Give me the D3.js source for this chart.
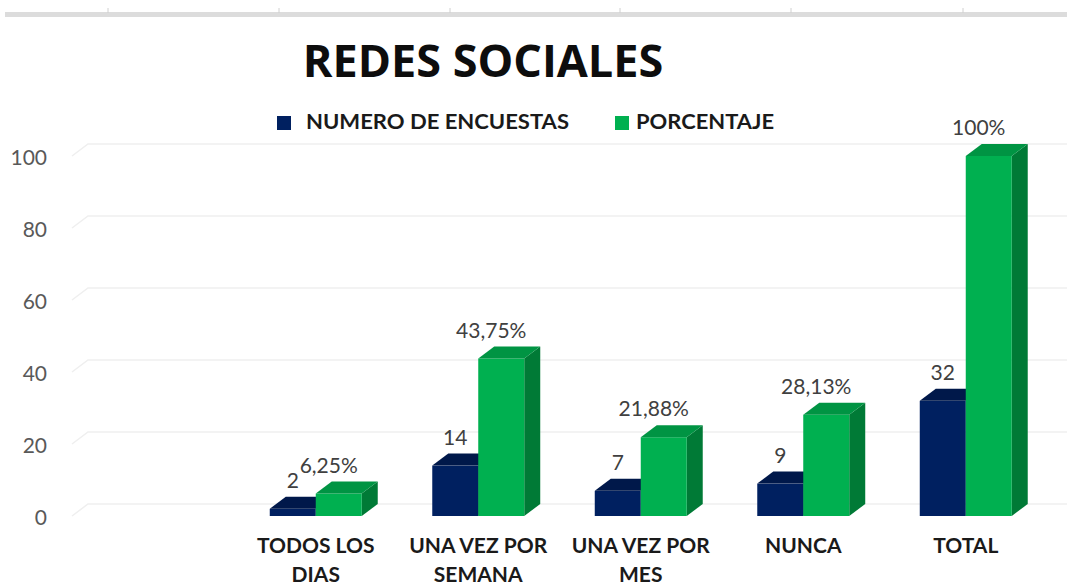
<!DOCTYPE html>
<html>
<head>
<meta charset="utf-8">
<script src="https://cdnjs.cloudflare.com/ajax/libs/d3/7.8.5/d3.min.js"></script>
<style>
  body { margin: 0; background: #fff; }
  svg { display: block; }
</style>
</head>
<body>
<script>
// datos
const categorias = ["", "TODOS LOS DIAS", "UNA VEZ POR SEMANA", "UNA VEZ POR MES", "NUNCA", "TOTAL"];
const encuestas = [null, 2, 14, 7, 9, 32];
const porcentaje = [null, 6.25, 43.75, 21.88, 28.13, 100];
const etiquetasPct = ["", "6,25%", "43,75%", "21,88%", "28,13%", "100%"];
const series = ["NUMERO DE ENCUESTAS", "PORCENTAJE"];
const yTicks = [0, 20, 40, 60, 80, 100];

const W = 1067, H = 586;
const dx = 16, dy = -12; // profundidad 3D

const svg = d3.select("body").append("svg").attr("width", W).attr("height", H);

// franja gris de la hoja arriba
svg.append("rect").attr("x", 5).attr("y", 12).attr("width", W - 5).attr("height", 5).attr("fill", "#dcdcdc");
[108, 279, 450, 620, 791, 963].forEach(x => {
    svg.append("line").attr("x1", x).attr("x2", x).attr("y1", 8).attr("y2", 13)
        .attr("stroke", "#d0d0d0").attr("stroke-width", 1);
});

const x = d3.scaleBand().domain(categorias.map((d, i) => i)).range([72, 1047]).paddingInner(0.434).paddingOuter(0.217);
const sub = d3.scaleBand().domain([0, 1]).range([0, x.bandwidth()]);
const y = d3.scaleLinear().domain([0, 100]).range([516, 156]);

// lineas de cuadricula con pared del fondo
const grid = svg.append("g");
yTicks.forEach(t => {
    const yy = y(t);
    grid.append("path")
        .attr("d", `M72,${yy} L${72 + dx},${yy + dy} L${W},${yy + dy}`)
        .attr("fill", "none").attr("stroke", "#efefef").attr("stroke-width", 1.5);
});

// etiquetas eje y
svg.append("g").selectAll("text").data(yTicks).join("text")
    .attr("x", 47).attr("y", d => y(d))
    .attr("text-anchor", "end").attr("dominant-baseline", "central")
    .attr("font-family", "Lato, 'Open Sans', sans-serif").attr("font-size", 21)
    .attr("fill", "#595959").text(d => d);

const colores = [
    { front: "#002060", top: "#00184a", side: "#00143e" },
    { front: "#00B050", top: "#009443", side: "#007A36" }
];

function barra(g, x0, w, v, c) {
    const y0 = y(0), y1 = y(v);
    g.append("path").attr("d", `M${x0 + w},${y0} L${x0 + w + dx},${y0 + dy} L${x0 + w + dx},${y1 + dy} L${x0 + w},${y1} Z`)
        .attr("fill", c.side);
    g.append("rect").attr("x", x0).attr("y", y1).attr("width", w).attr("height", y0 - y1).attr("fill", c.front);
    g.append("path").attr("d", `M${x0},${y1} L${x0 + dx},${y1 + dy} L${x0 + w + dx},${y1 + dy} L${x0 + w},${y1} Z`)
        .attr("fill", c.top);
}

const barras = svg.append("g");
const etiquetas = svg.append("g")
    .attr("font-family", "Lato, 'Open Sans', sans-serif").attr("font-size", 21).attr("fill", "#404040")
    .attr("text-anchor", "middle");

categorias.forEach((cat, i) => {
    if (encuestas[i] == null) return;
    const g = barras.append("g");
    const vals = [encuestas[i], porcentaje[i]];
    vals.forEach((v, s) => {
        const x0 = x(i) + sub(s);
        barra(g, x0, sub.bandwidth(), v, colores[s]);
    });
    const xN = x(i) + sub(0) + sub.bandwidth() / 2;
    const xP = x(i) + sub(1) + sub.bandwidth() / 2 - 10;
    etiquetas.append("text").attr("x", xN).attr("y", y(encuestas[i]) + dy - 9).text(encuestas[i]);
    etiquetas.append("text").attr("x", xP).attr("y", y(porcentaje[i]) + dy - 9).text(etiquetasPct[i]);
});

// etiquetas de categoria con salto de linea
function partir(txt, max) {
    const out = [];
    let line = "";
    txt.split(" ").forEach(w => {
        const t = line ? line + " " + w : w;
        if (t.length > max && line) { out.push(line); line = w; } else line = t;
    });
    if (line) out.push(line);
    return out;
}

const cats = svg.append("g")
    .attr("font-family", "Lato, 'Open Sans', sans-serif").attr("font-weight", "bold").attr("font-size", 21)
    .attr("fill", "#1a1a1a").attr("text-anchor", "middle");
categorias.forEach((cat, i) => {
    if (!cat) return;
    const t = cats.append("text").attr("x", x(i) + x.bandwidth() / 2).attr("y", 553);
    partir(cat, 12).forEach((l, k) => {
        t.append("tspan").attr("x", x(i) + x.bandwidth() / 2).attr("dy", k ? 29 : 0).text(l);
    });
});

// titulo
svg.append("text").attr("x", 483).attr("y", 77).attr("text-anchor", "middle")
    .attr("font-family", "'Open Sans', sans-serif").attr("font-weight", "bold").attr("font-size", 45)
    .attr("fill", "#0d0d0d").text("REDES SOCIALES");

// leyenda
const leg = svg.append("g");
const legX = [277, 615];
const legLen = [263, 138];
series.forEach((s, k) => {
    leg.append("rect").attr("x", legX[k]).attr("y", 116).attr("width", 14).attr("height", 14).attr("fill", colores[k].front);
    leg.append("text").attr("x", legX[k] + (k ? 21 : 29)).attr("y", 129)
        .attr("font-family", "Lato, sans-serif").attr("font-weight", "bold").attr("font-size", 20)
        .attr("textLength", legLen[k]).attr("lengthAdjust", "spacingAndGlyphs")
        .attr("fill", "#1a1a1a").text(s);
});
</script>
</body>
</html>
